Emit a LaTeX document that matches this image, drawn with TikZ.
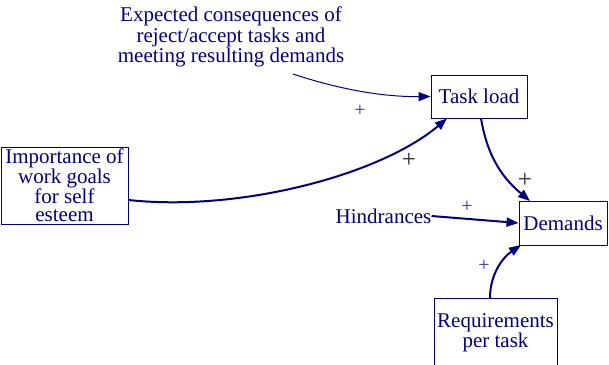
\documentclass[tikz,border=0pt]{standalone}
\usepackage{fontspec}
\setmainfont{Liberation Serif}
\usetikzlibrary{arrows.meta}
\definecolor{navyblue}{RGB}{0,0,128}
\begin{document}
\begin{tikzpicture}[x=1pt,y=-1pt,
  every node/.style={text=navyblue, font=\fontsize{21}{18}\selectfont},
  factor/.style={draw=navyblue, line width=0.9pt, inner sep=0pt, align=center},
  link/.style={draw=navyblue, line width=1pt, -{Triangle[length=12pt,width=9pt]}},
  strong/.style={link, line width=2pt},
  plabel/.style={font=\fontsize{20}{20}\selectfont, text=navyblue!80, inner sep=0pt},
  pbold/.style={font=\fontsize{25}{25}\selectfont, text=black!85, inner sep=0pt}]
\useasboundingbox (0,0) rectangle (609,364);

% factors
\node[factor, minimum width=127pt, minimum height=77pt] (imp) at (64.5,185.5)
  {Importance of\\work goals\\for self\\esteem};
\node[factor, minimum width=96pt, minimum height=43pt] (task) at (479,96.5) {Task load};
\node[factor, minimum width=88pt, minimum height=44pt] (dem) at (563,223) {Demands};
\node[factor, minimum width=123pt, minimum height=70pt] (req) at (495.5,333)
  {Requirements\\per task};

% free texts
\node[align=center, font=\fontsize{21}{20.5}\selectfont] (exp) at (231,37)
  {Expected consequences of\\reject/accept tasks and\\meeting resulting demands};
\node[inner sep=0pt] (hin) at (383.5,216) {Hindrances};

% links
\coordinate (expend) at (293,74);
\draw[link] (expend) .. controls (335,88) and (380,97) .. (task.west);
\draw[strong] (imp.east |- 0,200) .. controls (240,212) and (380,175) .. (447,118.5);
\draw[strong] (481,118.5) .. controls (488,160) and (505,180) .. (530,201);
\draw[strong] (hin.east) -- (dem.west);
\draw[strong] (490,298) .. controls (490,275) and (502,258) .. (521,245);

% polarity labels
\node[plabel] (p1) at (360,111) {+};
\node[pbold] (p2) at (409,160) {+};
\node[pbold] (p3) at (525,180) {+};
\node[plabel] (p4) at (467,207) {+};
\node[plabel] (p5) at (484,266) {+};
\end{tikzpicture}
\end{document}
